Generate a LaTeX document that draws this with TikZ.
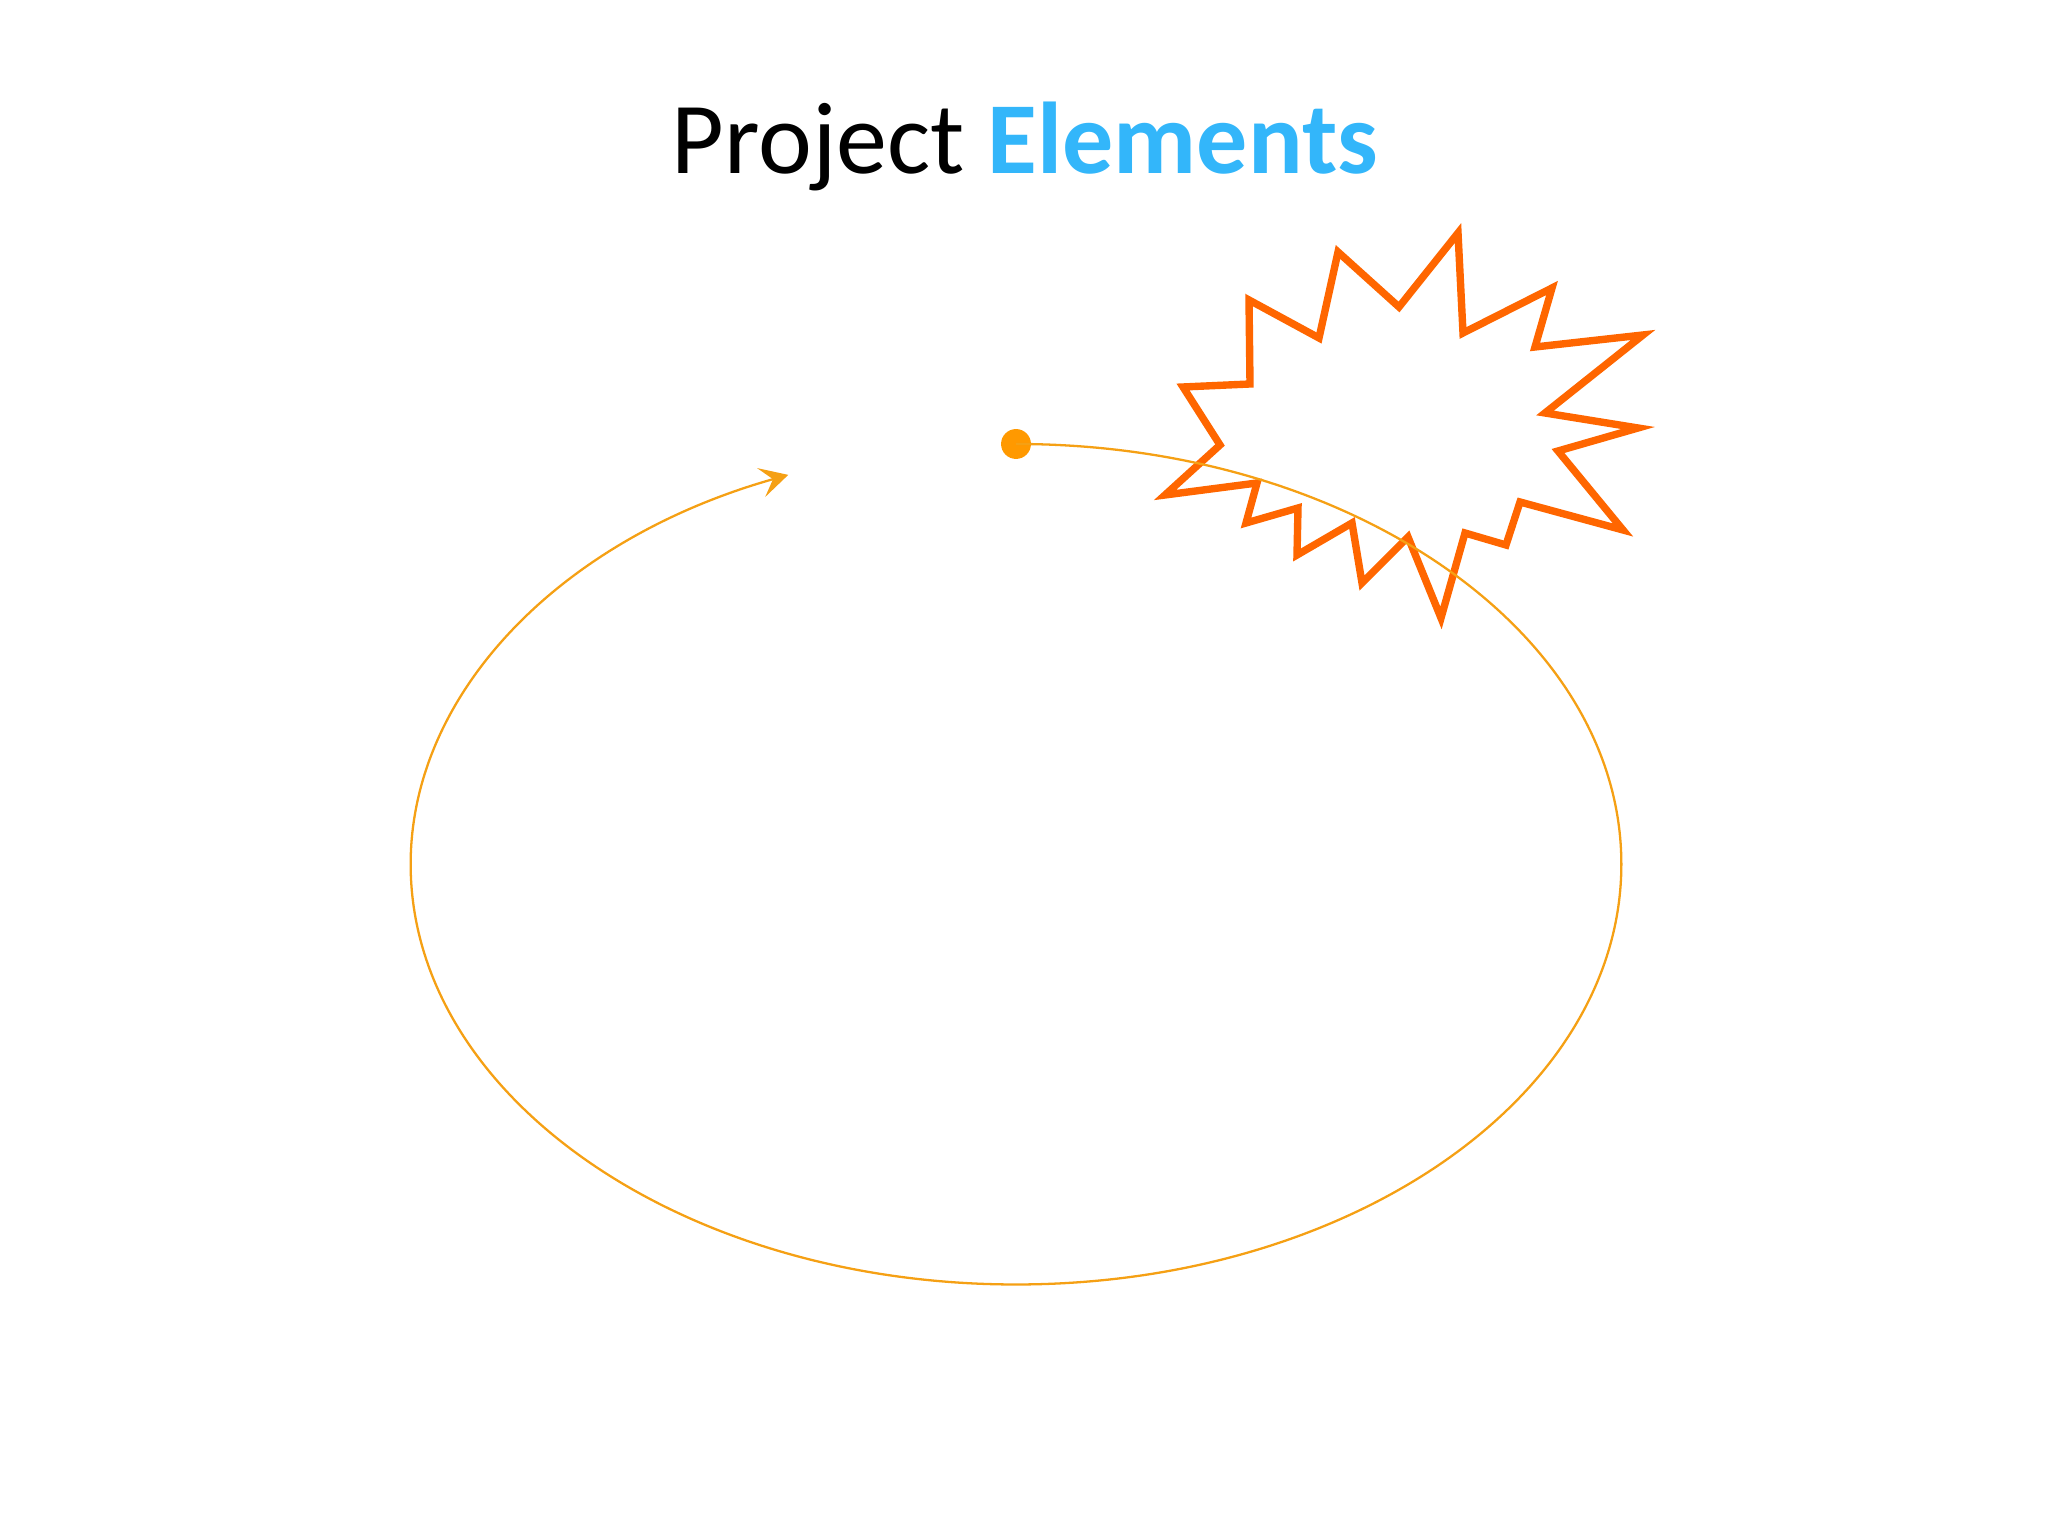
\documentclass[tikz,border=0pt]{standalone}
\usepackage{fontspec}
\setmainfont{Carlito}
\usetikzlibrary{arrows.meta}
\definecolor{titleblue}{RGB}{51,182,250}
\definecolor{flowor}{RGB}{245,160,20}
\definecolor{dotor}{RGB}{255,153,0}
\definecolor{burstor}{RGB}{255,102,0}
\tikzset{
  flow/.style={draw=flowor, line width=0.65pt, -{Stealth[length=8pt,width=8.5pt,inset=3.5pt]}},
  startdot/.style={circle, fill=dotor, minimum size=8.5pt, inner sep=0pt},
  burst/.style={draw=burstor, line width=2.1pt, line join=miter, miter limit=20},
  titletext/.style={anchor=base, inner sep=0pt, font=\fontsize{29}{35}\selectfont}
}
\begin{document}
\begin{tikzpicture}[x=0.01cm, y=0.01cm]
\useasboundingbox (0,0) rectangle (2048,1536);
\node[titletext] (title) at (1025,1362) {Project \textbf{\textcolor{titleblue}{Elements}}};
% starburst
\draw[burst] (1458,1303) -- (1399,1229) -- (1338,1284) -- (1319,1198) -- (1249,1236)
  -- (1250,1152) -- (1183,1149) -- (1220,1091) -- (1165,1041) -- (1257,1053)
  -- (1246,1013) -- (1298,1028) -- (1297,981) -- (1352,1013) -- (1362,953)
  -- (1408,999) -- (1441,918) -- (1465,1003) -- (1506,991) -- (1520,1034)
  -- (1623,1006) -- (1558,1085) -- (1638,1108) -- (1545,1123) -- (1643,1201)
  -- (1535,1189) -- (1552,1248) -- (1463,1203) -- cycle;
% cycle path
\node[startdot] (dot) at (1016,1092) {};
\draw[flow] (dot.center) arc[start angle=90, end angle=-247.9, x radius=6.05cm, y radius=4.20cm] coordinate (tipend);
\end{tikzpicture}
\end{document}
